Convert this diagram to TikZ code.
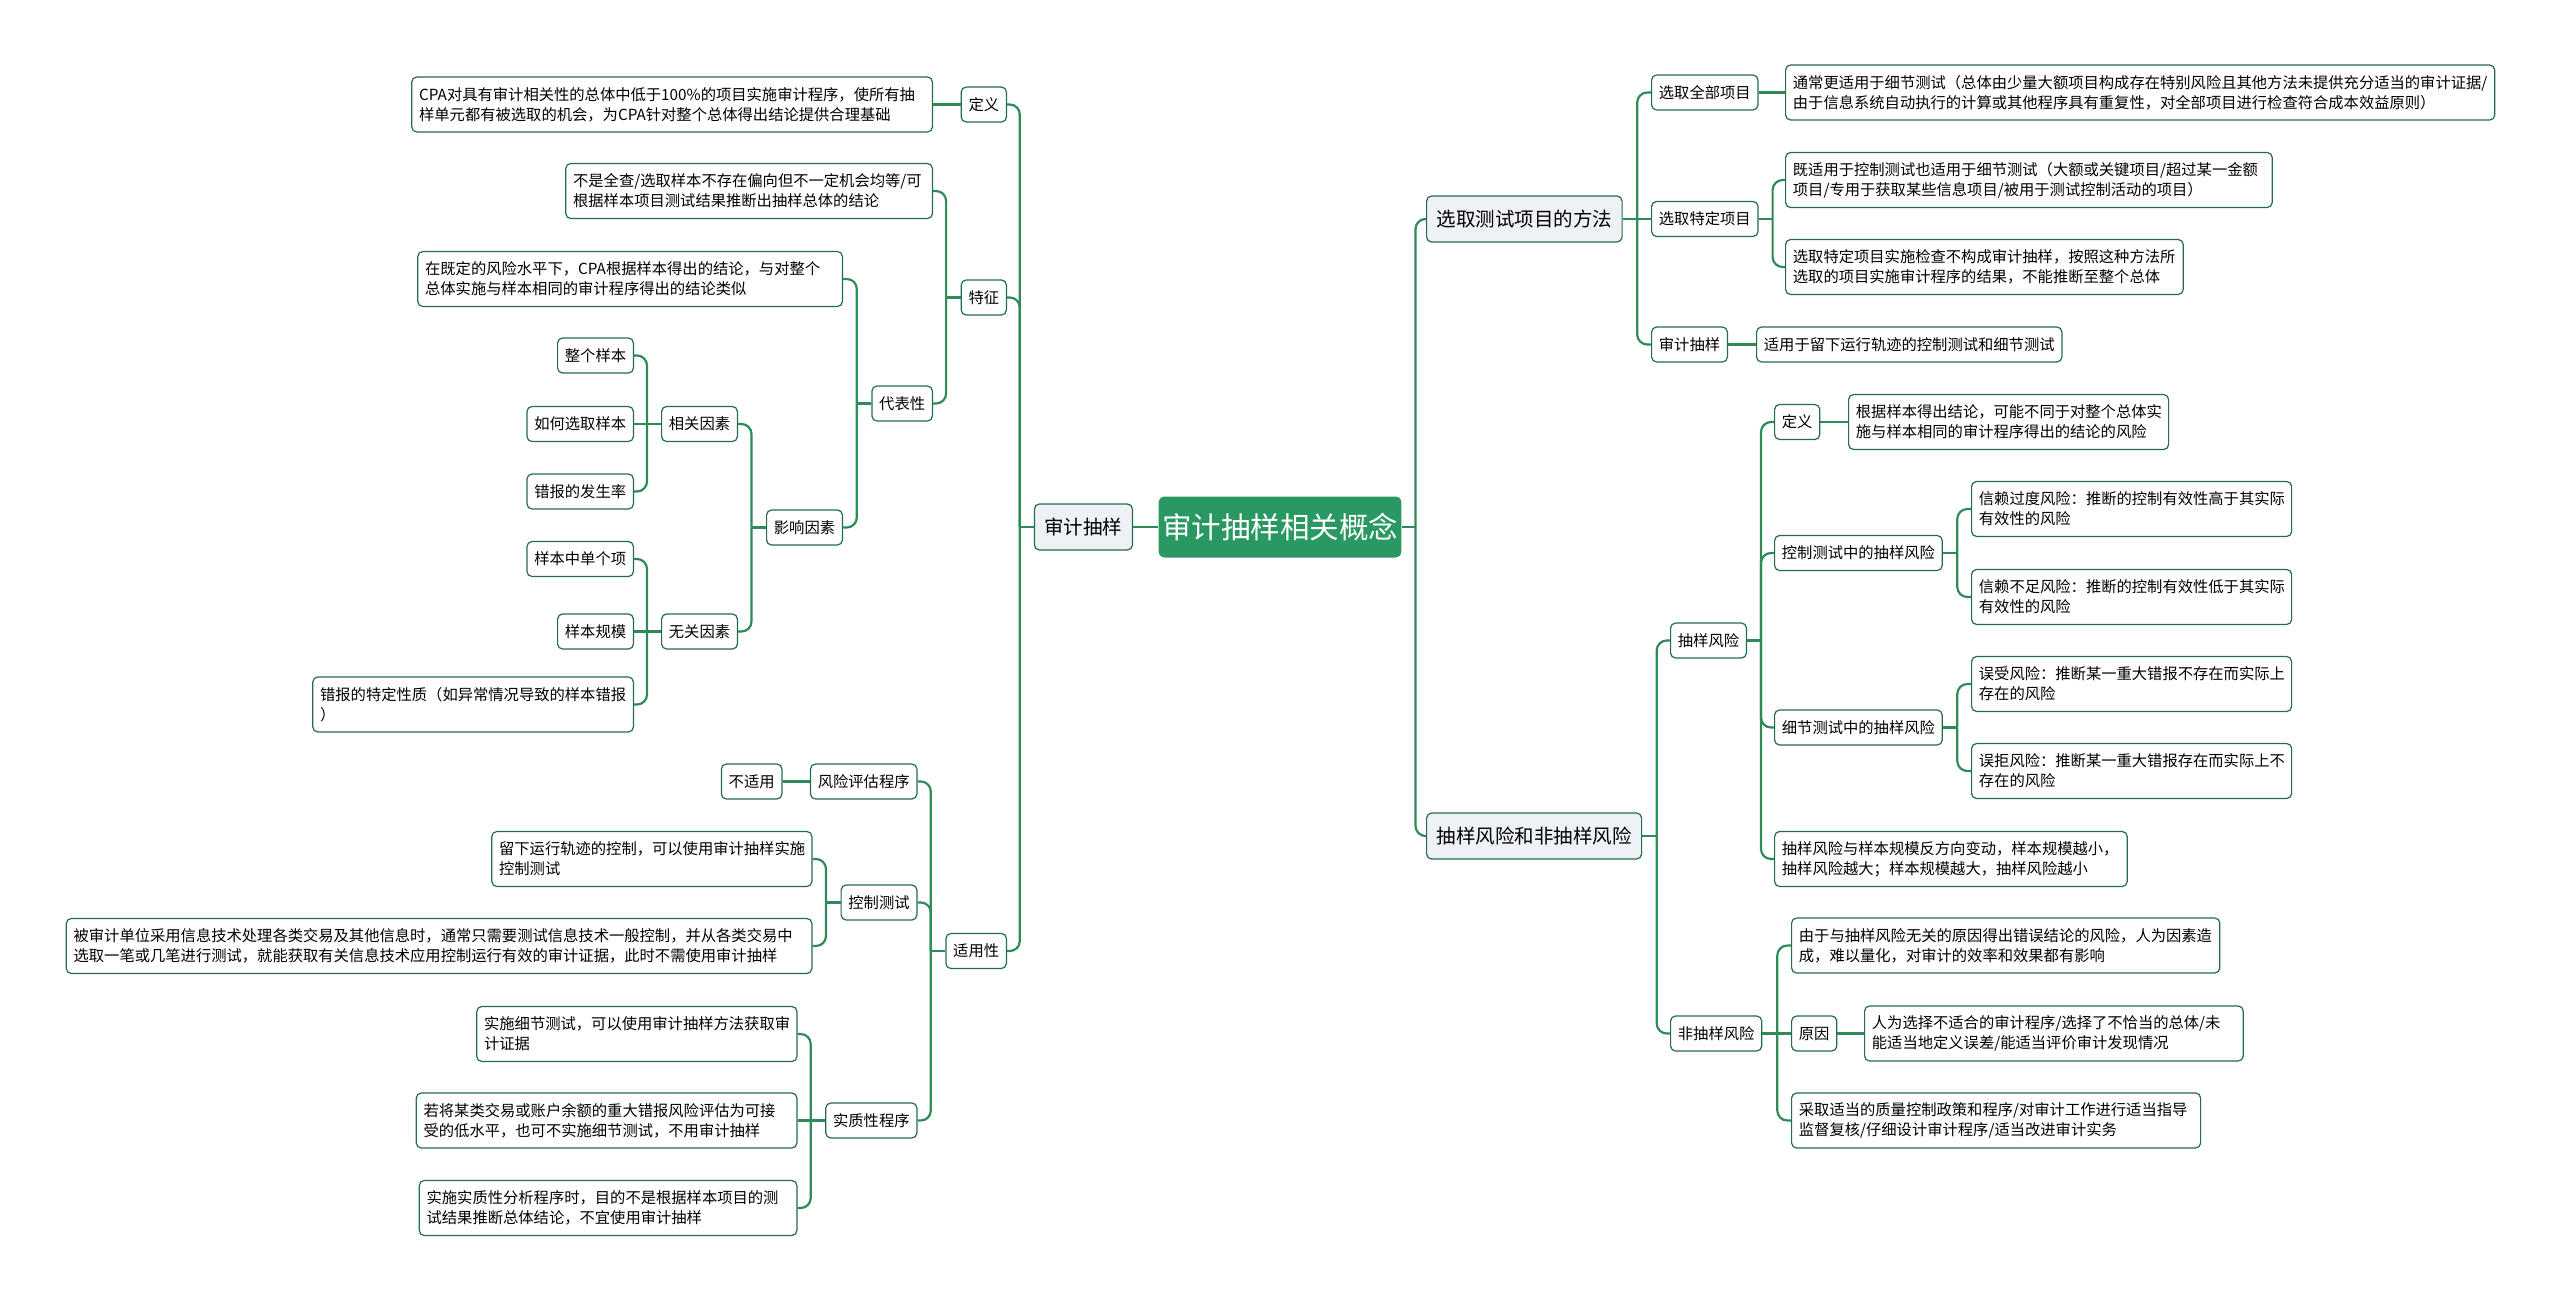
\documentclass[tikz,border=0pt]{standalone}
\usepackage{fontspec}
\setmainfont{Noto Sans CJK SC}
\definecolor{linkgreen}{RGB}{46,139,87}
\definecolor{edgegreen}{RGB}{37,107,78}
\definecolor{rootgreen}{RGB}{42,152,98}
\definecolor{topicgray}{RGB}{238,241,245}

\begin{document}
\begin{tikzpicture}[
    x=1pt, y=-1pt,
    % node styles
    rootbox/.style = {
      draw=none,
      rounded corners=6pt,
      fill=rootgreen,
      minimum width=235pt,
      minimum height=61pt,
      font=\fontsize{29.5}{34}\selectfont,
      text=white
    },
    topic/.style = {
      draw=edgegreen,
      line width=1.2pt,
      rounded corners=5pt,
      fill=topicgray,
      minimum height=46pt,
      inner xsep=10pt,
      font=\fontsize{19.5}{24}\selectfont
    },
    tag/.style = {
      draw=edgegreen,
      line width=1.2pt,
      rounded corners=5pt,
      fill=white,
      minimum height=35pt,
      inner xsep=7.3pt,
      font=\fontsize{15.3}{20}\selectfont
    },
    note/.style = {tag, minimum height=55pt, align=left, text width=#1},
    % connector styles
    link/.style = {line width=2.2pt, draw=linkgreen, rounded corners=10pt}
  ]
  \useasboundingbox (0,0) rectangle (2560,1301);

  % --- Root
  \node[rootbox] (root) at (1280,527) {审计抽样相关概念};

  % --- Left branch
  \node[topic, anchor=east] (audit) at (1133,527) {审计抽样};

  \node[tag, anchor=east] (defn) at (1007,104.5) {定义};
  \node[note=506pt, anchor=east] (defnote) at (933,104.5)
    {CPA对具有审计相关性的总体中低于100\%的项目实施审计程序，使所有抽\\样单元都有被选取的机会，为CPA针对整个总体得出结论提供合理基础};

  \node[tag, anchor=east] (feat) at (1007,297.5) {特征};
  \node[note=352pt, anchor=east] (unbiased) at (933,191)
    {不是全查/选取样本不存在偏向但不一定机会均等/可\\根据样本项目测试结果推断出抽样总体的结论};
  \node[tag, anchor=east] (repr) at (933,403.5) {代表性};
  \node[note=410pt, anchor=east] (reprnote) at (843,279)
    {在既定的风险水平下，CPA根据样本得出的结论，与对整个\\总体实施与样本相同的审计程序得出的结论类似};
  \node[tag, anchor=east] (factors) at (843,527.5) {影响因素};
  \node[tag, anchor=east] (related) at (738,424) {相关因素};
  \node[tag, anchor=east] (whole) at (634,355.5) {整个样本};
  \node[tag, anchor=east] (howsel) at (634,424) {如何选取样本};
  \node[tag, anchor=east] (rate) at (634,491.5) {错报的发生率};
  \node[tag, anchor=east] (unrelated) at (738,631.5) {无关因素};
  \node[tag, anchor=east] (single) at (634,559) {样本中单个项};
  \node[tag, anchor=east] (size) at (634,631.5) {样本规模};
  \node[note=306pt, anchor=east] (nature) at (634,704.5)
    {错报的特定性质（如异常情况导致的样本错报\\）};

  \node[tag, anchor=east] (scope) at (1007,951) {适用性};
  \node[tag, anchor=east] (riskproc) at (917.5,781.5) {风险评估程序};
  \node[tag, anchor=east] (na) at (782.5,781.5) {不适用};
  \node[tag, anchor=east] (ctrl) at (917.5,902.5) {控制测试};
  \node[note=305.5pt, anchor=east] (ctrlA) at (812.5,859)
    {留下运行轨迹的控制，可以使用审计抽样实施\\控制测试};
  \node[note=731pt, anchor=east] (ctrlB) at (812.5,946)
    {被审计单位采用信息技术处理各类交易及其他信息时，通常只需要测试信息技术一般控制，并从各类交易中\\选取一笔或几笔进行测试，就能获取有关信息技术应用控制运行有效的审计证据，此时不需使用审计抽样};
  \node[tag, anchor=east] (subst) at (917.5,1120.5) {实质性程序};
  \node[note=305.5pt, anchor=east] (substA) at (797.5,1034)
    {实施细节测试，可以使用审计抽样方法获取审\\计证据};
  \node[note=366pt, anchor=east] (substB) at (797.5,1120.5)
    {若将某类交易或账户余额的重大错报风险评估为可接\\受的低水平，也可不实施细节测试，不用审计抽样};
  \node[note=363pt, anchor=east] (substC) at (797.5,1208)
    {实施实质性分析程序时，目的不是根据样本项目的测\\试结果推断总体结论，不宜使用审计抽样};

  % --- Right branch
  \node[topic, anchor=west] (method) at (1426,219) {选取测试项目的方法};

  \node[tag, anchor=west] (allitems) at (1651,92.5) {选取全部项目};
  \node[note=694.5pt, anchor=west] (allnote) at (1785,92.5)
    {通常更适用于细节测试（总体由少量大额项目构成存在特别风险且其他方法未提供充分适当的审计证据/\\由于信息系统自动执行的计算或其他程序具有重复性，对全部项目进行检查符合成本效益原则）};
  \node[tag, anchor=west] (specific) at (1651,219) {选取特定项目};
  \node[note=472pt, anchor=west] (specA) at (1785,180)
    {既适用于控制测试也适用于细节测试（大额或关键项目/超过某一金额\\项目/专用于获取某些信息项目/被用于测试控制活动的项目）};
  \node[note=383pt, anchor=west] (specB) at (1785,267)
    {选取特定项目实施检查不构成审计抽样，按照这种方法所\\选取的项目实施审计程序的结果，不能推断至整个总体};
  \node[tag, anchor=west] (sampl) at (1651,344.5) {审计抽样};
  \node[tag, anchor=west] (samplnote) at (1756,344.5) {适用于留下运行轨迹的控制测试和细节测试};

  \node[topic, anchor=west] (risks) at (1426,836) {抽样风险和非抽样风险};

  \node[tag, anchor=west] (srisk) at (1670,640.5) {抽样风险};
  \node[tag, anchor=west] (sdef) at (1774,422) {定义};
  \node[note=305.4pt, anchor=west] (sdefnote) at (1848,422)
    {根据样本得出结论，可能不同于对整个总体实\\施与样本相同的审计程序得出的结论的风险};
  \node[tag, anchor=west] (sctrl) at (1774,553) {控制测试中的抽样风险};
  \node[note=305.4pt, anchor=west] (over) at (1971,509)
    {信赖过度风险：推断的控制有效性高于其实际\\有效性的风险};
  \node[note=305.4pt, anchor=west] (under) at (1971,597)
    {信赖不足风险：推断的控制有效性低于其实际\\有效性的风险};
  \node[tag, anchor=west] (sdet) at (1774,727.5) {细节测试中的抽样风险};
  \node[note=305.4pt, anchor=west] (accept) at (1971,684)
    {误受风险：推断某一重大错报不存在而实际上\\存在的风险};
  \node[note=305.4pt, anchor=west] (reject) at (1971,771)
    {误拒风险：推断某一重大错报存在而实际上不\\存在的风险};
  \node[note=338pt, anchor=west] (ssize) at (1774,859)
    {抽样风险与样本规模反方向变动，样本规模越小，\\抽样风险越大；样本规模越大，抽样风险越小};

  \node[tag, anchor=west] (nsrisk) at (1670,1033.5) {非抽样风险};
  \node[note=413.6pt, anchor=west] (nsdef) at (1791,945.5)
    {由于与抽样风险无关的原因得出错误结论的风险，人为因素造\\成，难以量化，对审计的效率和效果都有影响};
  \node[tag, anchor=west] (cause) at (1791,1033.5) {原因};
  \node[note=364pt, anchor=west] (causenote) at (1864,1033.5)
    {人为选择不适合的审计程序/选择了不恰当的总体/未\\能适当地定义误差/能适当评价审计发现情况};
  \node[note=394.4pt, anchor=west] (remedy) at (1791,1120.5)
    {采取适当的质量控制政策和程序/对审计工作进行适当指导\\监督复核/仔细设计审计程序/适当改进审计实务};

  % --- Connectors, left
  \draw[link] (root.west) -- (audit.east);
  \draw[link] (audit.west) -- ++(-14,0);
  \draw[link] ([xshift=-14pt]audit.west) |- (defn.east);
  \draw[link] ([xshift=-14pt]audit.west) |- (feat.east);
  \draw[link] ([xshift=-14pt]audit.west) |- (scope.east);

  \draw[link] (defn.west) -- (defnote.east);

  \draw[link] (feat.west) -- ++(-14.5,0);
  \draw[link] ([xshift=-14.5pt]feat.west) |- (unbiased.east);
  \draw[link] ([xshift=-14.5pt]feat.west) |- (repr.east);

  \draw[link] (repr.west) -- ++(-14.5,0);
  \draw[link] ([xshift=-14.5pt]repr.west) |- (reprnote.east);
  \draw[link] ([xshift=-14.5pt]repr.west) |- (factors.east);

  \draw[link] (factors.west) -- ++(-14.5,0);
  \draw[link] ([xshift=-14.5pt]factors.west) |- (related.east);
  \draw[link] ([xshift=-14.5pt]factors.west) |- (unrelated.east);

  \draw[link] (related.west) -- (howsel.east);
  \draw[link] ([xshift=-14pt]related.west) |- (whole.east);
  \draw[link] ([xshift=-14pt]related.west) |- (rate.east);

  \draw[link] (unrelated.west) -- (size.east);
  \draw[link] ([xshift=-14pt]unrelated.west) |- (single.east);
  \draw[link] ([xshift=-14pt]unrelated.west) |- (nature.east);

  \draw[link] (scope.west) -- ++(-14.5,0);
  \draw[link] ([xshift=-14.5pt]scope.west) |- (riskproc.east);
  \draw[link] ([xshift=-14.5pt]scope.west) |- (ctrl.east);
  \draw[link] ([xshift=-14.5pt]scope.west) |- (subst.east);

  \draw[link] (riskproc.west) -- (na.east);

  \draw[link] (ctrl.west) -- ++(-14.5,0);
  \draw[link] ([xshift=-14.5pt]ctrl.west) |- (ctrlA.east);
  \draw[link] ([xshift=-14.5pt]ctrl.west) |- (ctrlB.east);

  \draw[link] (subst.west) -- (substB.east);
  \draw[link] ([xshift=-14.5pt]subst.west) |- (substA.east);
  \draw[link] ([xshift=-14.5pt]subst.west) |- (substC.east);

  % --- Connectors, right
  \draw[link] (root.east) -- ++(14,0);
  \draw[link] ([xshift=14pt]root.east) |- (method.west);
  \draw[link] ([xshift=14pt]root.east) |- (risks.west);

  \draw[link] (method.east) -- (specific.west);
  \draw[link] ([xshift=14.5pt]method.east) |- (allitems.west);
  \draw[link] ([xshift=14.5pt]method.east) |- (sampl.west);

  \draw[link] (allitems.east) -- (allnote.west);
  \draw[link] (specific.east) -- ++(14,0);
  \draw[link] ([xshift=14pt]specific.east) |- (specA.west);
  \draw[link] ([xshift=14pt]specific.east) |- (specB.west);
  \draw[link] (sampl.east) -- (samplnote.west);

  \draw[link] (risks.east) -- ++(14.5,0);
  \draw[link] ([xshift=14.5pt]risks.east) |- (srisk.west);
  \draw[link] ([xshift=14.5pt]risks.east) |- (nsrisk.west);

  \draw[link] (srisk.east) -- ++(14,0);
  \draw[link] ([xshift=14pt]srisk.east) |- (sdef.west);
  \draw[link] ([xshift=14pt]srisk.east) |- (sctrl.west);
  \draw[link] ([xshift=14pt]srisk.east) |- (sdet.west);
  \draw[link] ([xshift=14pt]srisk.east) |- (ssize.west);

  \draw[link] (sdef.east) -- (sdefnote.west);

  \draw[link] (sctrl.east) -- ++(14.5,0);
  \draw[link] ([xshift=14.5pt]sctrl.east) |- (over.west);
  \draw[link] ([xshift=14.5pt]sctrl.east) |- (under.west);

  \draw[link] (sdet.east) -- ++(14.5,0);
  \draw[link] ([xshift=14.5pt]sdet.east) |- (accept.west);
  \draw[link] ([xshift=14.5pt]sdet.east) |- (reject.west);

  \draw[link] (nsrisk.east) -- (cause.west);
  \draw[link] ([xshift=15pt]nsrisk.east) |- (nsdef.west);
  \draw[link] ([xshift=15pt]nsrisk.east) |- (remedy.west);

  \draw[link] (cause.east) -- (causenote.west);

\end{tikzpicture}
\end{document}
